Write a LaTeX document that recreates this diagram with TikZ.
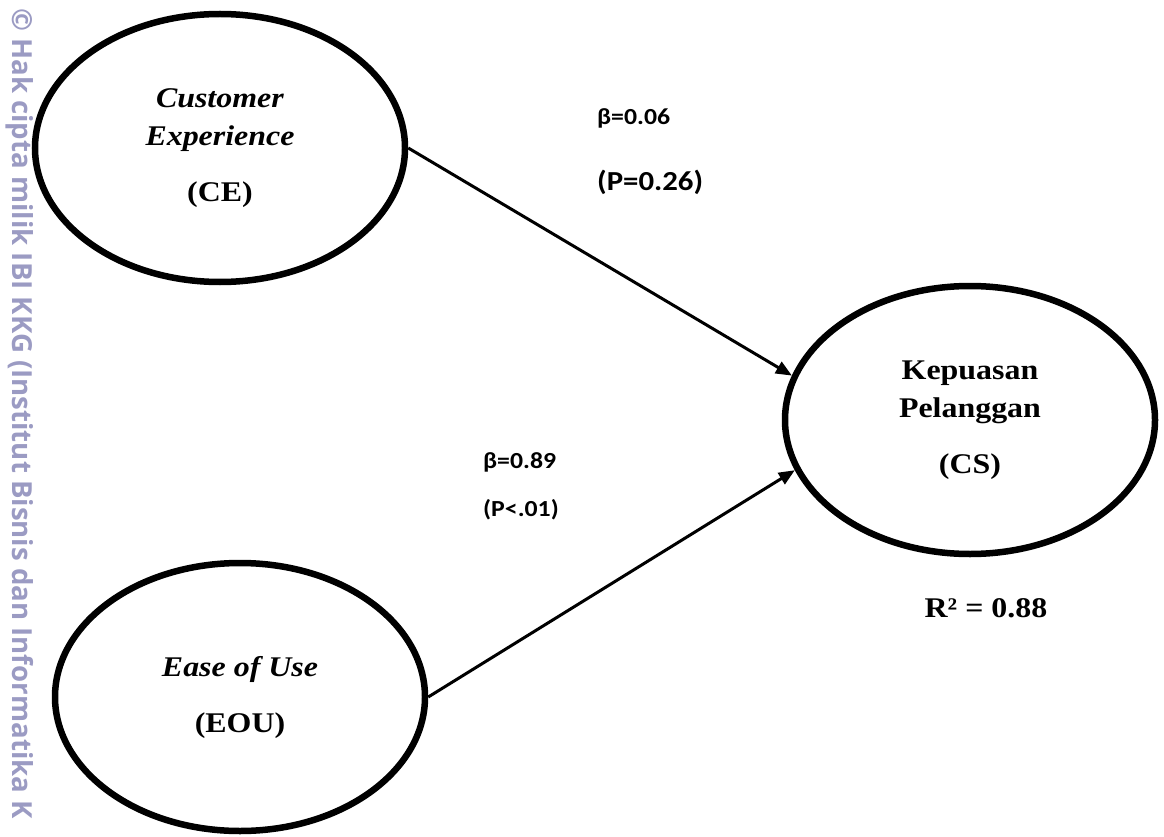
\documentclass[tikz,border=0pt]{standalone}
\usepackage{fontspec}
\setmainfont{Liberation Serif}[FakeStretch=1.12]
\newfontfamily\pathfont{Carlito}[FakeStretch=1.12]
\newfontfamily\markfont{Open Sans}
\usetikzlibrary{shapes.geometric,arrows.meta}

\definecolor{markgray}{RGB}{155,155,195}

\tikzset{
  construct/.style={ellipse, draw, line width=6.5pt, minimum width=370pt,
    minimum height=268pt, inner sep=0pt, align=center,
    font=\fontsize{28.5}{38}\selectfont\bfseries},
  path arrow/.style={line width=3pt, -{Triangle[length=16pt,width=13pt]}},
  coef/.style={anchor=west, inner sep=0pt,
    font=\pathfont\bfseries\fontsize{23}{28}\selectfont},
}

\begin{document}
\begin{tikzpicture}[x=1pt,y=-1pt]
  \useasboundingbox (0,0) rectangle (1164,837);
  % watermark down the left edge
  \node[rotate=-90, anchor=west, inner sep=0pt, text=markgray,
    font=\markfont\bfseries\fontsize{27.6}{27.6}\selectfont] (mark) at (20,8)
    {© Hak cipta milik IBI KKG (Institut Bisnis dan Informatika K};
  % constructs
  \node[construct] (ce) at (220,148)
    {\textit{Customer}\\\textit{Experience}\\[18pt](CE)};
  \node[construct] (cs) at (970,420)
    {Kepuasan\\Pelanggan\\[18pt](CS)};
  \node[construct] (eou) at (240,697)
    {\textit{Ease of Use}\\[18pt](EOU)};
  % paths
  \draw[path arrow] (ce.east) -- (cs.166);
  \draw[path arrow] (eou.east) -- (cs.196);
  % coefficients
  \node[coef] (b1) at (597,118) {β=0.06};
  \node[coef, font=\pathfont\bfseries\fontsize{27.5}{33}\selectfont] (p1) at (597,182) {(P=0.26)};
  \node[coef] (b2) at (483,462) {β=0.89};
  \node[coef] (p2) at (483,510) {(P<.01)};
  \node[font=\fontsize{28.5}{28.5}\selectfont\bfseries] (r2) at (986,608) {R² = 0.88};
\end{tikzpicture}
\end{document}
